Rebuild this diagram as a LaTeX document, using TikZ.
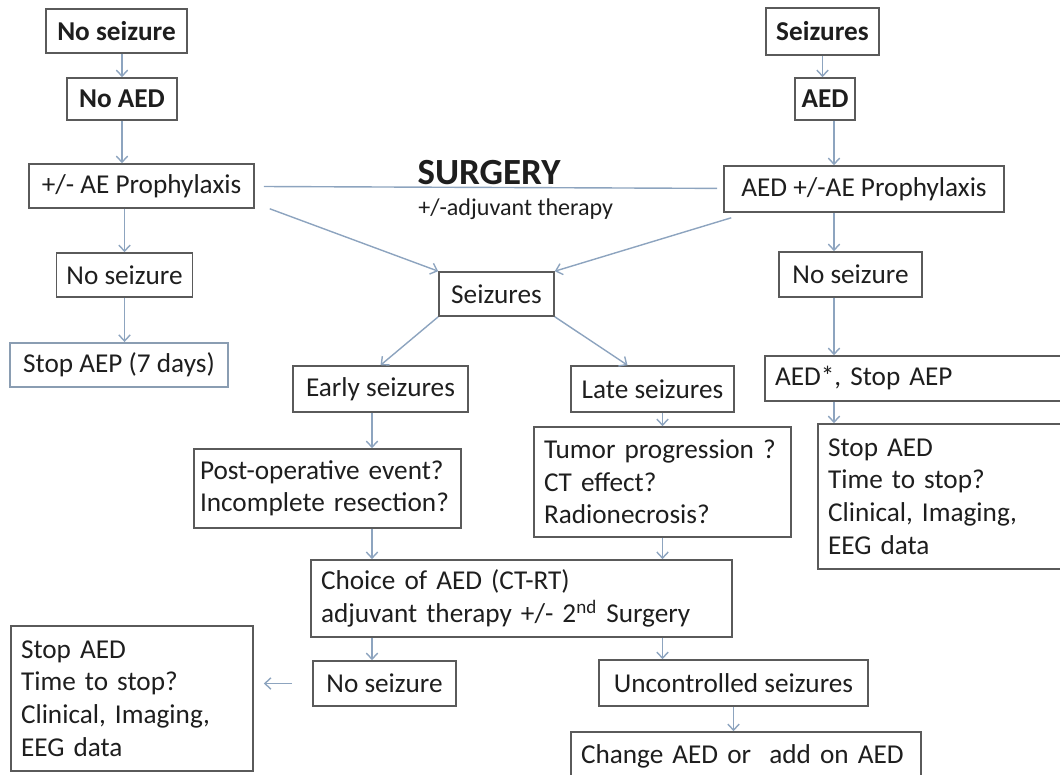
\documentclass[tikz,border=0pt]{standalone}
\usepackage{fontspec}
\setmainfont{Carlito}
\usetikzlibrary{arrows.meta}
\definecolor{arrowblue}{HTML}{8DA4BF}
\definecolor{boxgray}{HTML}{5A5A5A}
\definecolor{txt}{HTML}{1E1E1E}
\begin{document}
\begin{tikzpicture}[plain/.style={draw=boxgray, line width=0.9pt, text=txt, inner sep=0.2cm, font=\fontsize{15.5}{18.5}\selectfont}, strong/.style={plain, font=\fontsize{15.5}{18.5}\selectfont\bfseries}, multi/.style={plain, align=left}, link/.style={draw=arrowblue, line width=0.8pt, -{Straight Barb[length=3.5pt,width=6.5pt]}}]
	\useasboundingbox (0,0) rectangle (21.2,-15.48);
	% left branch
	\node[strong, minimum width=2.82cm, minimum height=0.88cm] (NS1) at (2.33,-0.62) {No seizure};
	\node[strong, minimum width=2.2cm, minimum height=0.84cm] (NA) at (2.44,-1.98) {No AED};
	\node[plain, minimum width=4.5cm, minimum height=0.88cm] (AP) at (2.83,-3.72) {+/- AE Prophylaxis};
	\node[plain, minimum width=2.5cm, minimum height=0.88cm] (NS2) at (2.49,-5.5) {No seizure};
	\node[plain, draw=arrowblue!80!gray, minimum width=4.36cm, minimum height=0.88cm] (SA) at (2.38,-7.3) {Stop AEP (7 days)};
	% right branch
	\node[strong, minimum width=2.18cm, minimum height=0.94cm] (SZ) at (16.45,-0.63) {Seizures};
	\node[strong, inner xsep=0.12cm, minimum width=1.2cm, minimum height=0.84cm] (AE) at (16.5,-1.98) {AED};
	\node[plain, minimum width=5.6cm, minimum height=0.92cm] (AA) at (17.28,-3.78) {AED +/-AE Prophylaxis};
	\node[plain, minimum width=2.86cm, minimum height=0.9cm] (NS3) at (17.01,-5.49) {No seizure};
	\node[multi, text width=5.8cm, minimum height=0.9cm] (AS) at (18.4,-7.57) {AED*, Stop AEP};
	\node[multi, text width=4.74cm, minimum height=2.9cm] (SR) at (18.93,-9.93) {Stop AED\\Time to stop?\\Clinical, Imaging,\\EEG data};
	% middle
	\node[plain, minimum width=2.3cm, minimum height=0.88cm] (SC) at (9.93,-5.88) {Seizures};
	\node[plain, minimum width=3.5cm, minimum height=0.92cm] (ES) at (7.61,-7.78) {Early seizures};
	\node[plain, minimum width=3.26cm, minimum height=0.92cm] (LS) at (13.05,-7.78) {Late seizures};
	\node[multi, inner xsep=0.12cm, text width=5.1cm, minimum height=1.58cm] (PO) at (6.55,-9.77) {Post-operative event?\\Incomplete resection?};
	\node[multi, text width=4.74cm, minimum height=2.2cm] (TP) at (13.25,-9.64) {Tumor progression ?\\CT effect?\\Radionecrosis?};
	\node[multi, text width=8.02cm, minimum height=1.54cm] (CH) at (10.43,-11.97) {Choice of AED (CT-RT)\\adjuvant therapy +/- 2\textsuperscript{nd} Surgery};
	\node[plain, minimum width=2.86cm, minimum height=0.9cm] (NS4) at (7.69,-13.67) {No seizure};
	\node[multi, text width=4.44cm, minimum height=2.9cm] (SL) at (2.64,-13.97) {Stop AED\\Time to stop?\\Clinical, Imaging,\\EEG data};
	\node[plain, minimum width=5.38cm, minimum height=0.92cm] (UC) at (14.67,-13.66) {Uncontrolled seizures};
	\node[multi, text width=6.6cm, minimum height=0.96cm] (CA) at (14.92,-15.12) {Change AED or\ \ add on AED};
	\coordinate (rc) at (16.68,0);
	\coordinate (mc) at (7.44,0);
	% surgery
	\draw[draw=arrowblue, line width=0.8pt, shorten <=0.18cm, shorten >=0.12cm] (AP) -- node[above, inner sep=1pt, text=txt, font=\fontsize{21}{24}\selectfont\bfseries] (SU) {SURGERY} node[pos=0.557, below, inner sep=1pt, yshift=-5pt, text=txt, font=\fontsize{13.7}{16}\selectfont] (AT) {+/-adjuvant therapy} (AA);
	\draw[link] (NS1.south -| NA) -- (NA.north);
	\draw[link] (NA) -- (NA |- AP.north);
	\draw[link] (AP.south -| NS2) -- (NS2);
	\draw[link] (NS2) -- (NS2 |- SA.north);
	\draw[link] ([xshift=0.3cm]AP.south east) -- (SC.north west);
	\draw[link] ([xshift=0.16cm,yshift=-0.1cm]AA.south west) -- (SC.north east);
	\draw[link] (SZ) -- (SZ |- AE.north);
	\draw[link] (AE.south -| rc) -- (AA.north -| rc);
	\draw[link] (AA.south -| rc) -- (NS3.north -| rc);
	\draw[link] (NS3.south -| rc) -- (AS.north -| rc);
	\draw[link] (AS.south -| rc) -- (SR.north -| rc);
	\draw[link] (SC.south west) -- (ES.north);
	\draw[link] (SC.south east) -- ([xshift=-0.5cm]LS.north);
	\draw[link] (ES.south -| mc) -- (PO.north -| mc);
	\draw[link] (LS.south -| TP) -- (TP.north);
	\draw[link] (PO.south -| mc) -- (CH.north -| mc);
	\draw[link] (TP) -- (TP |- CH.north);
	\draw[link] (CH.south -| mc) -- (NS4.north -| mc);
	\draw[link] (CH.south -| TP) -- (UC.north -| TP);
	\draw[link] (UC) -- (UC |- CA.north);
	\draw[link, shorten <=0.4cm, shorten >=0.2cm] (NS4.west) -- (NS4.west -| SL.east);
\end{tikzpicture}
\end{document}
